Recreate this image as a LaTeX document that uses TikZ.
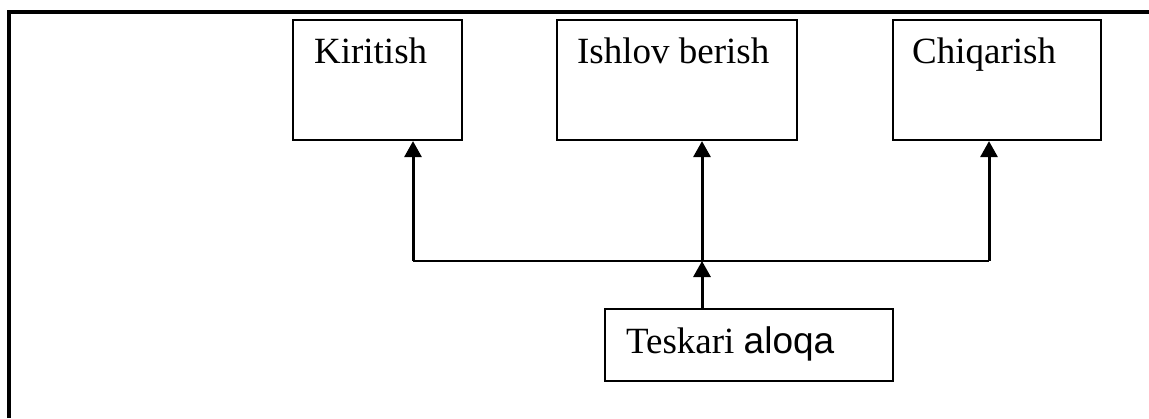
\documentclass[tikz,border=0pt]{standalone}
\usepackage{fontspec}
\setmainfont{Liberation Serif}
\newfontfamily\arialfont{Liberation Sans}
\usetikzlibrary{arrows.meta,calc}

\begin{document}
\begin{tikzpicture}[
    x=1pt, y=-1pt,
    every node/.style={font=\fontsize{37}{42}\selectfont},
    blk/.style={rectangle, draw, line width=2.2pt, inner sep=0pt},
    txt/.style={anchor=base west, inner sep=0pt},
    e/.style={line width=3pt, -{Triangle[length=16pt, width=17pt]}},
    bus/.style={line width=2.6pt},
    frm/.style={line width=3.4pt},
  ]
  \useasboundingbox (0,0) rectangle (1149,418);
  \draw[frm] (9,418) -- (9,12) -- (1149,12);
  % boxes
  \node[blk, minimum width=169pt, minimum height=120pt] (inp) at (377.5, 80) {};
  \node[blk, minimum width=240pt, minimum height=120pt] (proc) at (677, 80) {};
  \node[blk, minimum width=208pt, minimum height=120pt] (out) at (997, 80) {};
  \node[blk, minimum width=288pt, minimum height=72pt] (fb) at (749, 345) {};
  \node[txt] (tinp) at ($(inp.north west)+(22,45)$) {Kiritish};
  \node[txt] (tproc) at ($(proc.north west)+(21,45)$) {Ishlov berish};
  \node[txt] (tout) at ($(out.north west)+(20,45)$) {Chiqarish};
  \node[txt] (tfb) at ($(fb.north west)+(22,46)$) {Teskari {\arialfont aloqa}};
  % bus
  \coordinate (b1) at (413, 261);
  \coordinate (b2) at (702, 261);
  \coordinate (b3) at (989, 261);
  \draw[bus] (b1) -- (b3);
  \draw[e] (b1) -- (b1 |- inp.south);
  \draw[e] (b2) -- (b2 |- proc.south);
  \draw[e] (b3) -- (b3 |- out.south);
  \draw[e] (b2 |- fb.north) -- (b2);
\end{tikzpicture}
\end{document}
